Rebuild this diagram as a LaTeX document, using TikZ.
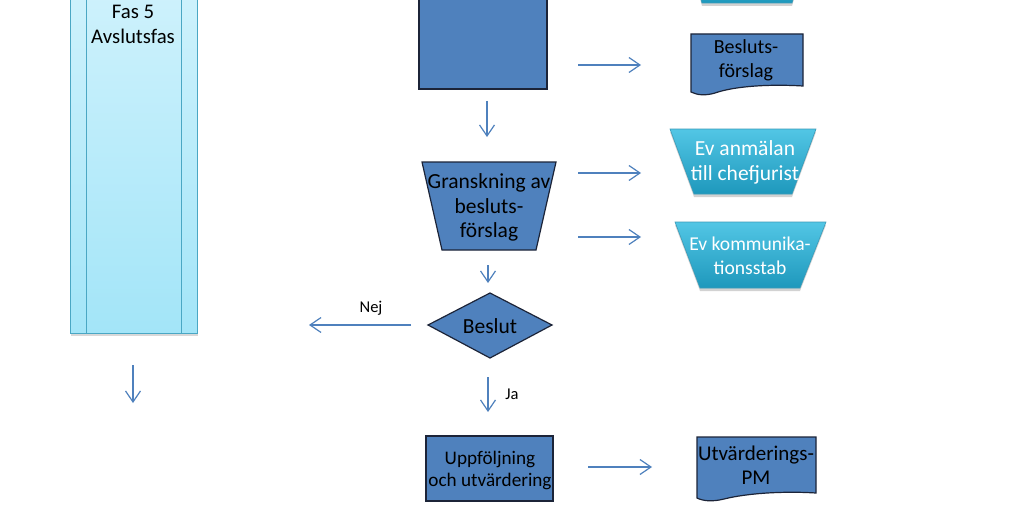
\documentclass[tikz,border=0pt]{standalone}
\usepackage{fontspec}
\setmainfont{Carlito}
\usetikzlibrary{arrows.meta,shadows}
\definecolor{blu}{HTML}{4F81BD}
\definecolor{edgec}{HTML}{1C2438}
\definecolor{arrc}{HTML}{4F81BD}
\definecolor{lctop}{HTML}{CFF2FC}
\definecolor{lcbot}{HTML}{A3E5F8}
\definecolor{lcedge}{HTML}{4AA7C4}
\definecolor{ctop}{HTML}{52C6E5}
\definecolor{cbot}{HTML}{1E98BC}
\definecolor{cedge}{HTML}{3A9BB8}
\begin{document}
\begin{tikzpicture}[x=1pt,y=-1pt,
  bluebox/.style={fill=blu,draw=edgec,line width=1.2pt},
  cyanbox/.style={top color=ctop,bottom color=cbot,draw=cedge,line width=0.6pt,
     drop shadow={opacity=0.35,shadow xshift=0pt,shadow yshift=-3pt}},
  txt/.style={align=center,inner sep=0pt,font=\fontsize{21.5}{24.5}\selectfont},
  wtxt/.style={txt,text=white},
  small/.style={inner sep=0pt,font=\fontsize{16.5}{18}\selectfont},
  arrow/.style={draw=arrc,line width=1.2pt,-{Straight Barb[length=11pt,width=15pt]}}]
\clip (0,0) rectangle (1024,516);
\fill[white] (0,0) rectangle (1024,516);

% left tall box
\path[top color=lctop,bottom color=lcbot,draw=lcedge,line width=1pt,
  drop shadow={opacity=0.3,shadow xshift=1pt,shadow yshift=-3pt}]
  (70,-20) rectangle (197,333);
\draw[lcedge,line width=1pt] (86,-20) -- (86,333) (181,-20) -- (181,333);
\node[txt,font=\fontsize{20.8}{24.5}\selectfont] (fas) at (133,24.5) {Fas 5\\Avslutsfas};

% top square
\draw[bluebox] (419,-10) rectangle (547,89);
\coordinate (sq) at (483,40);

% top-right partial cyan shape
\path[cyanbox] (690,-40) -- (805,-40) -- (792,3) -- (702,3) -- cycle;

% Besluts-forslag document
\draw[bluebox] (691,34) -- (803,34) -- (803,86)
  .. controls (770,84) and (735,86) .. (715,93)
  .. controls (705,96) and (697,95) .. (691,92) -- cycle;
\node[txt,font=\fontsize{20}{24}\selectfont] (bf) at (746,60) {Besluts-\\förslag};

% Granskning trapezoid
\draw[bluebox] (422,162) -- (556,162) -- (536,250) -- (442,250) -- cycle;
\node[txt] (gr) at (489,207.5) {Granskning av\\besluts-\\förslag};

% cyan trapezoids
\path[cyanbox] (670,129) -- (816,129) -- (792,194) -- (694,194) -- cycle;
\node[wtxt] (ev1) at (745,162.5) {Ev anmälan\\till chefjurist};
\path[cyanbox] (675,222) -- (826,222) -- (800,288) -- (700,288) -- cycle;
\node[wtxt,font=\fontsize{19.6}{24}\selectfont] (ev2) at (750,255.5) {Ev kommunika-\\tionsstab};

% diamond
\draw[bluebox] (428,325) -- (490,293) -- (552,325) -- (490,358) -- cycle;
\node[txt] (bes) at (490,326) {Beslut};

% Uppfoljning box
\draw[bluebox] (426,436) rectangle (553,501);
\node[txt,font=\fontsize{19.2}{22}\selectfont] (upp) at (490,470.5) {Uppföljning\\och utvärdering};

% Utvarderings-PM document
\draw[bluebox] (697,437) -- (816,437) -- (816,493)
  .. controls (785,491) and (748,493) .. (724,499)
  .. controls (712,502) and (703,501) .. (697,498) -- cycle;
\node[txt,font=\fontsize{21}{24.5}\selectfont] (pm) at (756,465) {Utvärderings-\\PM};

% labels
\node[small] (nej) at (371,308) {Nej};
\node[small] (ja) at (512,394) {Ja};

% arrow end points
\coordinate (a0s) at (133,365); \coordinate (a0e) at (133,403);
\coordinate (a1s) at (578,65);  \coordinate (a1e) at (641,65);
\coordinate (a2s) at (487,101); \coordinate (a2e) at (487,137);
\coordinate (a3s) at (578,173); \coordinate (a3e) at (641,173);
\coordinate (a4s) at (578,237); \coordinate (a4e) at (641,237);
\coordinate (a5s) at (488,265); \coordinate (a5e) at (488,283);
\coordinate (a6s) at (411,325); \coordinate (a6e) at (309,325);
\coordinate (a7s) at (488,377); \coordinate (a7e) at (488,412);
\coordinate (a8s) at (588,467); \coordinate (a8e) at (652,467);
\foreach \i in {0,...,8}{\draw[arrow] (a\i s) -- (a\i e);}
\end{tikzpicture}
\end{document}
